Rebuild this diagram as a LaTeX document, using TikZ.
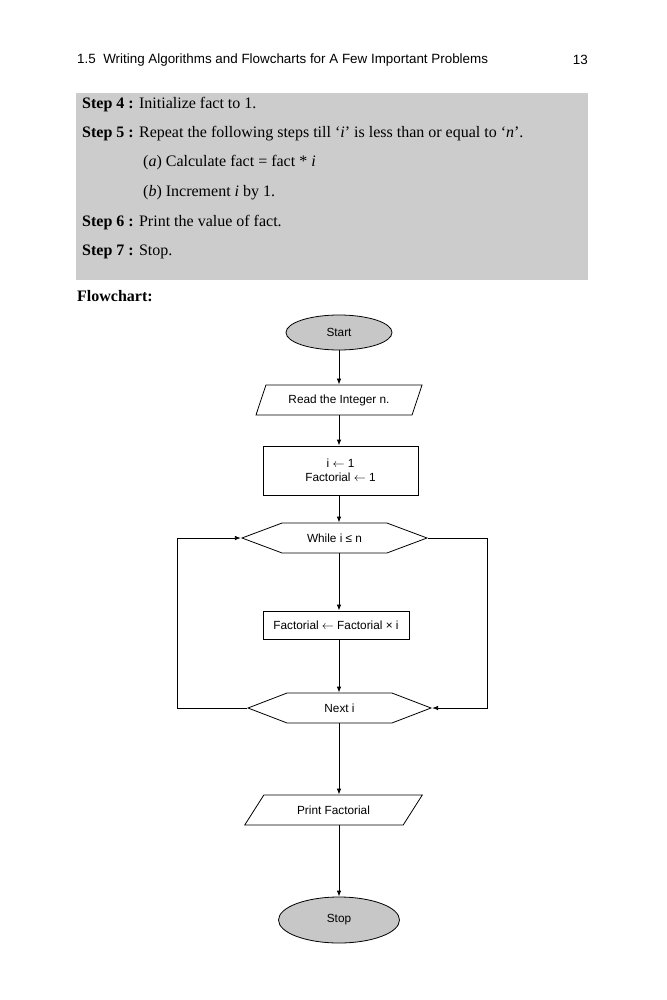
\documentclass[tikz,border=0pt]{standalone}
\usepackage{fontspec}
\setmainfont{Liberation Serif}
\newfontfamily\arial{Liberation Sans}
\usetikzlibrary{arrows.meta,positioning,shapes.geometric,shapes.symbols}

\begin{document}
\begin{tikzpicture}[x=1pt,y=-1pt,
  flow/.style={draw,line width=.8pt,font=\arial\fontsize{11.8}{14}\selectfont,inner sep=0pt},
  term/.style={flow,ellipse,fill=black!22},
  io/.style={flow,trapezium,trapezium stretches=true,minimum height=30},
  hexa/.style={flow,signal,signal to=west and east,minimum height=30},
  proc/.style={flow,rectangle},
  steptext/.style={anchor=west,font=\fontsize{16}{18}\selectfont,inner sep=0pt},
  arr/.style={-{Latex[length=6pt,width=4.5pt]},line width=.8pt}]
\useasboundingbox (0,0) rectangle (666,1000);
% page header
\node[anchor=west,inner sep=0pt,font=\arial\fontsize{13.4}{15}\selectfont] (head) at (77,60) {1.5\ \ Writing Algorithms and Flowcharts for A Few Important Problems};
\node[anchor=east,inner sep=0pt,font=\arial\fontsize{13.4}{15}\selectfont] (page) at (588,60) {13};
% algorithm box
\node[fill=black!20,inner sep=0pt,minimum width=512,minimum height=187] (algbox) at (332,186.5) {};
\node[steptext] (s4) at (82,105) {\textbf{Step 4 :} Initialize fact to 1.};
\node[steptext] (s5) at (82,134) {\textbf{Step 5 :} Repeat the following steps till `\textit{i}' is less than or equal to `\textit{n}'.};
\node[steptext] (s5a) at (143,163) {(\textit{a}) Calculate fact = fact * \textit{i}};
\node[steptext] (s5b) at (143,193) {(\textit{b}) Increment \textit{i} by 1.};
\node[steptext] (s6) at (82,223) {\textbf{Step 6 :} Print the value of fact.};
\node[steptext] (s7) at (82,252) {\textbf{Step 7 :} Stop.};
\node[steptext] (fc) at (77,296) {\textbf{Flowchart:}};
% flowchart
\node[term,minimum width=106,minimum height=35] (start) at (339,332.5) {Start};
\node[io,trapezium left angle=58,trapezium right angle=122,minimum width=166] (read) at (339,400) {Read the Integer n.};
\node[proc,minimum width=155,minimum height=49,align=center] (init) at (340.5,470.5) {i $\leftarrow$ 1\\Factorial $\leftarrow$ 1};
\node[hexa,signal pointer angle=41,minimum width=185] (while) at (334.5,538) {While i ≤ n};
\node[proc,minimum width=146,minimum height=28] (fact) at (336,625) {Factorial $\leftarrow$ Factorial × i};
\node[hexa,signal pointer angle=42,minimum width=183] (next) at (339.5,708) {Next i};
\node[io,trapezium left angle=41,trapezium right angle=139,minimum width=179] (print) at (333.5,810) {Print Factorial};
\node[term,minimum width=121,minimum height=46] (stop) at (339,920) {Stop};
\coordinate (lft) at (177,538);
\coordinate (rgt) at (487,538);
\draw[arr] (start) -- (start |- read.north);
\draw[arr] (read.south -| start) -- (init.north -| start);
\draw[arr] (init.south -| start) -- (while.north -| start);
\draw[arr] (while.south -| start) -- (fact.north -| start);
\draw[arr] (fact.south -| start) -- (next.north -| start);
\draw[arr] (next.south -| start) -- (print.north -| start);
\draw[arr] (print.south -| start) -- (stop);
\draw[arr] (next.west) -| (lft) -- (while.west);
\draw[arr] (while.east) -- (rgt) |- (next.east);
\end{tikzpicture}
\end{document}
